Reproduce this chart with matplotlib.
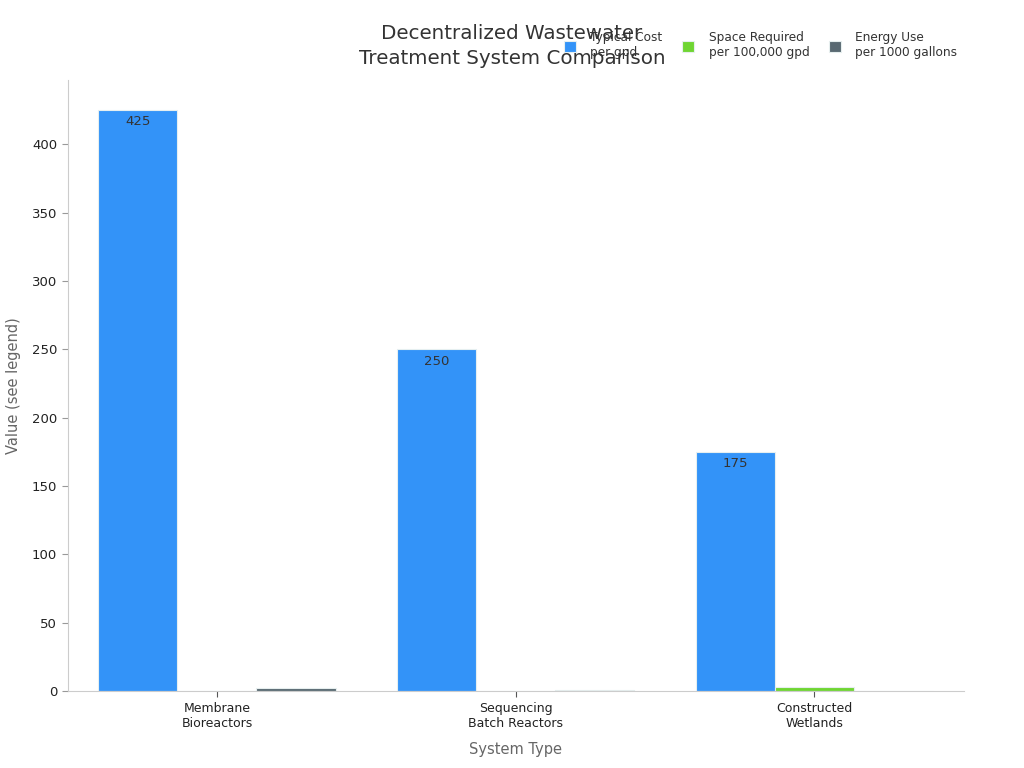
import numpy as np
import matplotlib
matplotlib.use("Agg")
import matplotlib.pyplot as plt

# data
systems = ["Membrane\nBioreactors", "Sequencing\nBatch Reactors", "Constructed\nWetlands"]
cost_per_gpd = [425, 250, 175]
space_per_100k = [0.2, 0.5, 3.0]
energy_per_1000 = [2.0, 1.2, 0.1]

series_names = ["Typical Cost\nper gpd", "Space Required\nper 100,000 gpd", "Energy Use\nper 1000 gallons"]
colors = ["#2f91f8", "#6cd42e", "#56666f"]

fig, ax = plt.subplots(figsize=(10.24, 7.68), dpi=100)
fig.subplots_adjust(left=0.066, right=0.941, top=0.896, bottom=0.1)

x = np.arange(len(systems))
width = 0.265
all_series = [cost_per_gpd, space_per_100k, energy_per_1000]
for i, (vals, name, col) in enumerate(zip(all_series, series_names, colors)):
    bars = ax.bar(x + (i - 1) * width, vals, width, color=col, label=name,
                  edgecolor="#e8f0f0", linewidth=0.8, alpha=0.98)
    if i == 0:
        # value labels just inside top of the big bars
        for b, v in zip(bars, vals):
            ax.text(b.get_x() + b.get_width() / 2, v - 4, f"{v}",
                    ha="center", va="top", fontsize=9.5, color="#333333")

ax.set_xlim(-0.5, 2.5)
ax.set_ylim(0, 447)
ax.set_xticks(x)
ax.set_xticklabels(systems, fontsize=9, color="#222222")
ax.tick_params(axis="y", labelsize=9.5, colors="#222222", length=4, color="#999999")
ax.tick_params(axis="x", length=4, color="#555555")
ax.set_yticks([0, 50, 100, 150, 200, 250, 300, 350, 400])

for side in ["top", "right"]:
    ax.spines[side].set_visible(False)
for side in ["left", "bottom"]:
    ax.spines[side].set_color("#cccccc")

ax.set_xlabel("System Type", fontsize=10.5, color="#666666", labelpad=9)
ax.set_ylabel("Value (see legend)", fontsize=10.5, color="#666666", labelpad=8)

fig.text(0.5, 0.94, "Decentralized Wastewater\nTreatment System Comparison",
         ha="center", va="center", fontsize=14.3, color="#333333", linespacing=1.4)

leg = ax.legend(loc="upper right", bbox_to_anchor=(1.005, 1.097), ncol=3, frameon=False,
                fontsize=8.7, handlelength=1.0, handleheight=1.0, columnspacing=1.6,
                handletextpad=1.2)
for t in leg.get_texts():
    t.set_color("#333333")

plt.savefig("out.png")
